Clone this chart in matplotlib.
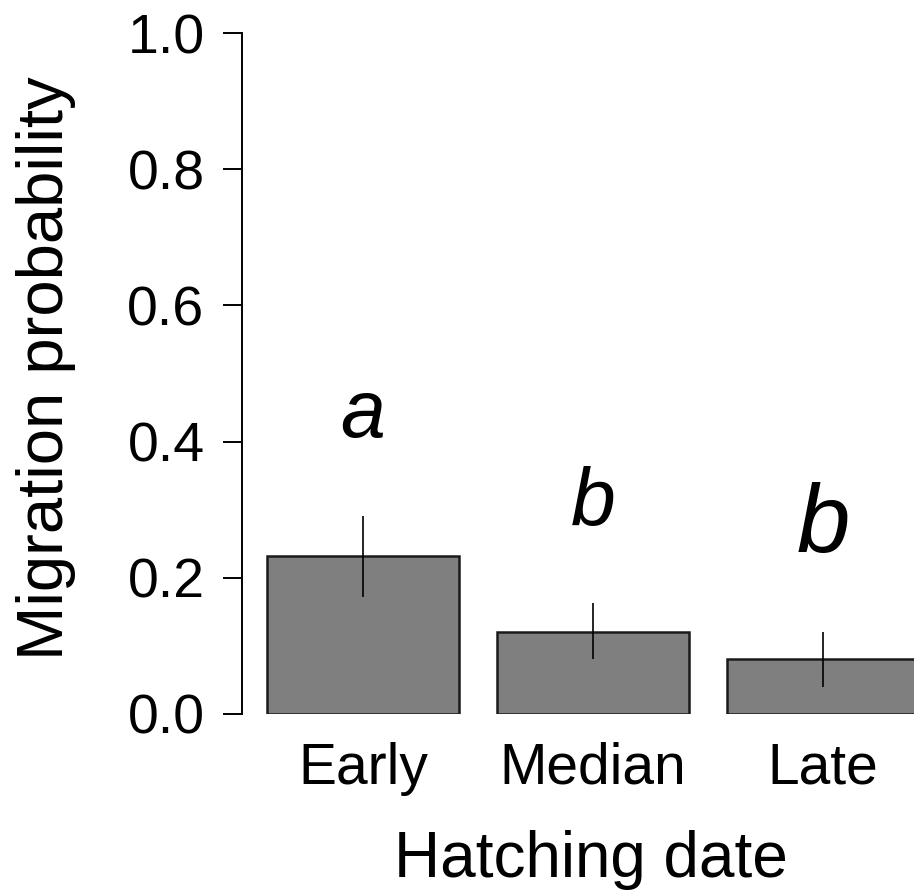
import numpy as np
import matplotlib
matplotlib.use("Agg")
from matplotlib import pyplot as plt

# data
groups = ["Early", "Median", "Late"]
prob = [0.232, 0.120, 0.081]
err_lo = [0.172, 0.081, 0.040]
err_hi = [0.291, 0.163, 0.120]
letters = ["a", "b", "b"]
letter_base = [0.407, 0.2775, 0.238]   # baseline of the letters, data units
letter_size = [58, 58, 69]

plt.rcParams['font.family'] = ['Liberation Sans', 'DejaVu Sans']

W, H = 914, 894
fig = plt.figure(figsize=(W/100, H/100), dpi=100)
# axes region in pixels: spine at x=242, y=0 at 714, y=1 at 33
x0, x1 = 242, 914
ytop, ybot = 33, 714
ax = fig.add_axes([x0/W, 1-ybot/H, (x1-x0)/W, (ybot-ytop)/H])

# R barplot layout: width 1, space 0.2
xpos = 0.7 + 1.2*np.arange(len(groups))
unit = 230/1.2
ax.set_xlim(0.2 - 25/unit, 0.2 - 25/unit + (x1-x0)/unit)
ax.set_ylim(0, 1)

ax.bar(xpos, prob, width=1.0, color="#7f7f7f", edgecolor="#1a1a1a", linewidth=1.8)
ax.vlines(xpos, err_lo, err_hi, color="black", linewidth=1.2)

for xp, lab, ly, fs in zip(xpos, letters, letter_base, letter_size):
    ax.text(xp, ly, lab, ha="center", va="baseline", fontsize=fs, style="italic")

for s in ["top", "right", "bottom"]:
    ax.spines[s].set_visible(False)
ax.spines["left"].set_linewidth(1.4)
ax.spines["left"].set_bounds(0, 1)

ax.set_yticks(np.arange(0, 1.01, 0.2))
ax.set_yticklabels([f"{v:.1f}" for v in np.arange(0, 1.01, 0.2)])
ax.tick_params(axis="y", length=14, width=1.4, labelsize=40, pad=13)
ax.set_xticks(xpos)
ax.set_xticklabels(groups)
ax.tick_params(axis="x", length=0, labelsize=41, pad=20)

fig.text(46/W, 1-368/H, "Migration probability", rotation=90,
         ha="center", va="center", fontsize=47)
fig.text(591/W, 1-877/H, "Hatching date", ha="center", va="baseline", fontsize=46)

fig.savefig("out.png", dpi=100)
